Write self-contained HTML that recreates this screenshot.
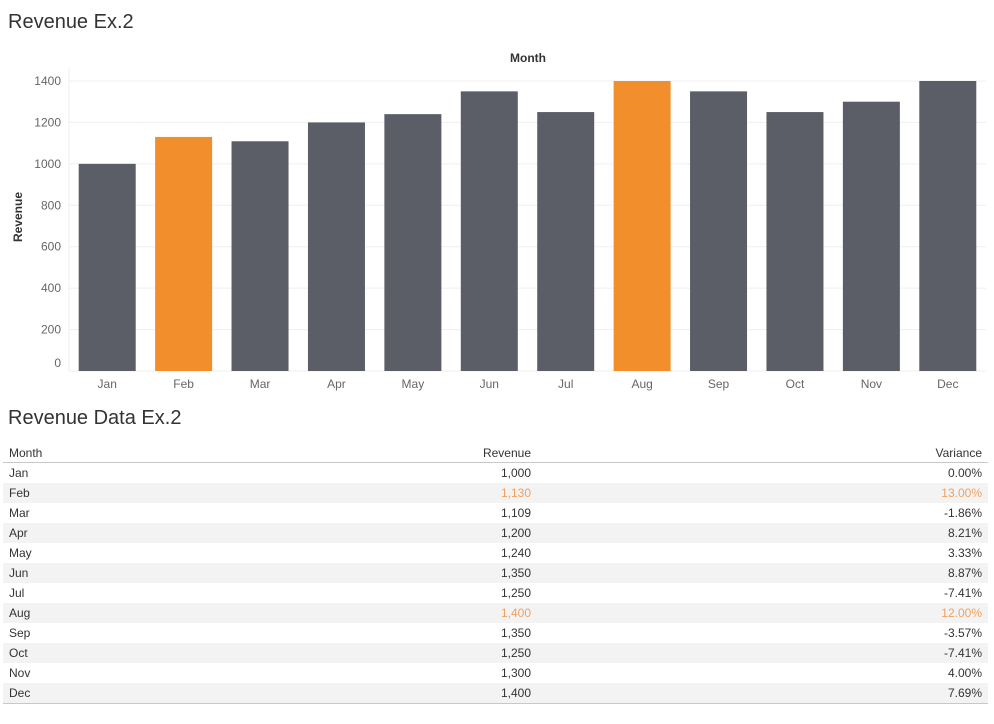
<!DOCTYPE html>
<html><head><meta charset="utf-8">
<style>
body{margin:0;background:#fff;font-family:"Liberation Sans",sans-serif;width:994px;height:724px;overflow:hidden;position:relative}
.title{position:absolute;left:8px;font-size:20px;color:#333;font-weight:normal}
#tbl{position:absolute;left:3px;top:443px;width:985px;font-size:12px;color:#333}
.row{position:relative;height:20px;line-height:20px}
.row span{position:absolute}
.c1{left:6px}.c2{right:457px}.c3{right:6px}
.hdr{border-bottom:1px solid #c8c8c8;height:19px}
.alt{background:#f3f3f3}
.hl{color:#f0a060}
</style></head><body>
<div class="title" style="top:11px">Revenue Ex.2</div>
<svg id="chart" width="994" height="400" style="position:absolute;left:0;top:0"></svg>
<div class="title" style="top:407px">Revenue Data Ex.2</div>
<div id="tbl">
<div class="row hdr"><span class="c1">Month</span><span class="c2">Revenue</span><span class="c3">Variance</span></div>
</div>
<script>
const months=["Jan","Feb","Mar","Apr","May","Jun","Jul","Aug","Sep","Oct","Nov","Dec"];
const revenue=[1000,1130,1109,1200,1240,1350,1250,1400,1350,1250,1300,1400];
const variance=["0.00%","13.00%","-1.86%","8.21%","3.33%","8.87%","-7.41%","12.00%","-3.57%","-7.41%","4.00%","7.69%"];
const highlight=["Feb","Aug"];
const yTicks=[0,200,400,600,800,1000,1200,1400];
const NS="http://www.w3.org/2000/svg";
const svg=document.getElementById('chart');
const x0=69,x1=986,yTop=81,yBot=371,yMax=1400;
const band=(x1-x0)/months.length;
const y=v=>yBot-(v/yMax)*(yBot-yTop);
const xc=i=>x0+band*(i+0.5);
function mk(tag,attrs,txt){const e=document.createElementNS(NS,tag);for(const k in attrs)e.setAttribute(k,attrs[k]);if(txt!=null)e.textContent=txt;svg.appendChild(e);return e;}
yTicks.forEach(t=>{
  const g=mk('line',{x1:x0,x2:x1,y1:y(t),y2:y(t),stroke:'#efefef'});
  
  
  const l=mk('text',{x:61,y:t===0?y(t)-4:y(t)+4,'text-anchor':'end','font-size':12,fill:'#666','font-family':'Liberation Sans, sans-serif'},t);
  
  
});
const ax=mk('line',{x1:x0,x2:x0,y1:67,y2:yBot,stroke:'#efefef'});


months.forEach((m,i)=>{
  const w=57;
  const r=mk('rect',{x:xc(i)-w/2,y:y(revenue[i]),width:w,height:yBot-y(revenue[i]),fill:highlight.includes(m)?'#f28e2b':'#5b5e66'});
  
  
  const t=mk('text',{x:xc(i),y:388,'text-anchor':'middle','font-size':12,fill:'#666','font-family':'Liberation Sans, sans-serif'},m);
  
  
});
const xt=mk('text',{x:528,y:62,'text-anchor':'middle','font-size':12,'font-weight':'bold',fill:'#333','font-family':'Liberation Sans, sans-serif'},'Month');


const yt=mk('text',{x:0,y:0,transform:'translate(22,217) rotate(-90)','text-anchor':'middle','font-size':12,'font-weight':'bold',fill:'#333','font-family':'Liberation Sans, sans-serif'},'Revenue');


const tbl=document.getElementById('tbl');
months.forEach((m,i)=>{
  const r=document.createElement('div');
  r.className='row'+(i%2?' alt':'');
  
  
  const hl=highlight.includes(m)?' hl':'';
  r.innerHTML='<span class="c1">'+m+'</span><span class="c2'+hl+'">'+revenue[i].toLocaleString('en-US')+'</span><span class="c3'+hl+'">'+variance[i]+'</span>';
  tbl.appendChild(r);
});
const last=document.createElement('div');
last.style.borderTop='1px solid #c8c8c8';


tbl.appendChild(last);
</script>
</body></html>
